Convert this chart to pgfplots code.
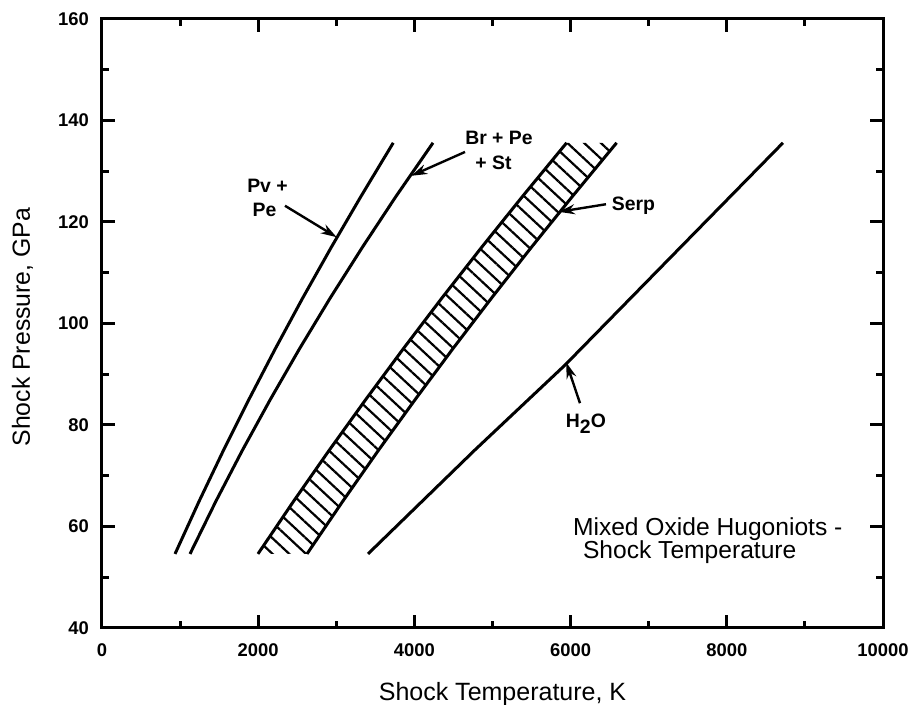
\documentclass[border=0pt]{standalone}
\usepackage{pgfplots}
\pgfplotsset{compat=1.18}
\usepackage{fontspec}
\setmainfont{Liberation Sans}
\usetikzlibrary{patterns.meta,arrows.meta}

\begin{document}
\begin{tikzpicture}
\path[use as bounding box] (-51pt,-38.5pt) rectangle (406pt,314pt);
\begin{axis}[
  scale only axis, width=390.5pt, height=304.5pt,
  xmin=0, xmax=10000, ymin=40, ymax=160,
  xtick={0,2000,...,10000}, ytick={40,60,...,160},
  minor x tick num=1, minor y tick num=1,
  tick align=inside, xtick pos=both, ytick pos=both,
  major tick length=6.5pt, minor tick length=3.5pt,
  tick style={black, line width=1.5pt},
  axis line style={line width=1.5pt},
  ticklabel style={font=\fontsize{9.2}{11}\selectfont\bfseries},
  /pgf/number format/assume math mode=true,
  /pgf/number format/1000 sep={},
  scaled x ticks=false,
  yticklabel style={xshift=-3pt},
  xticklabel style={yshift=-4.5pt},
  xlabel={Shock Temperature, K},
  ylabel={Shock Pressure, GPa},
  xlabel style={font=\fontsize{12.5}{14}\selectfont,
    at={(axis description cs:0.5,0)}, anchor=base, xshift=5pt, yshift=-36pt},
  ylabel style={font=\fontsize{12.4}{14}\selectfont,
    at={(axis description cs:-0.0922,0.494)}, anchor=base},
  clip=false,
]
% Serpentine band: hatched area between the two bounding Hugoniots
\addplot[draw=none, pattern={Lines[angle=-43,distance=5.7pt,line width=1.1pt]}] coordinates {
  (1997,54.6) (2454,65) (2908,75) (3376,85) (3857,95) (4351,105) (4860,115) (5382,125) (5949,135.6)
  (6589,135.6) (6021,125) (5497,115) (4987,105) (4491,95) (4009,85) (3539,75) (3084,65) (2625,54.6)
} -- cycle;
\addplot[line width=1.5pt, no marks] coordinates {
  (1997,54.6) (2454,65) (2908,75) (3376,85) (3857,95) (4351,105) (4860,115) (5382,125) (5949,135.6)};
\addplot[line width=1.5pt, no marks] coordinates {
  (2625,54.6) (3084,65) (3539,75) (4009,85) (4491,95) (4987,105) (5497,115) (6021,125) (6589,135.6)};
% Pv + Pe
\addplot[line width=1.5pt, no marks] coordinates {
  (935,54.6) (1244,65) (1555,75) (1880,85) (2218,95) (2569,105) (2935,115) (3314,125) (3729,135.6)};
% Br + Pe + St
\addplot[line width=1.5pt, no marks] coordinates {
  (1127,54.6) (1459,65) (1797,75) (2154,85) (2528,95) (2921,105) (3333,115) (3762,125) (4238,135.6)};
% H2O
\addplot[line width=1.5pt, no marks] coordinates {
  (3406,54.6) (4776,75.1) (5928,91.8) (7406,115.0) (8719,135.6)};

% curve labels and pointers
\begin{scope}[font=\fontsize{9.7}{11}\selectfont\bfseries]
\node[anchor=base] at (axis cs:2119,125.9) {Pv +};
\node[anchor=base] at (axis cs:2081,121.0) {Pe};
\node[anchor=base] at (axis cs:5083,135.2) {Br + Pe};
\node[anchor=base] at (axis cs:5013,130.4) {+ St};
\node[anchor=base] at (axis cs:6805,122.2) {Serp};
\node[anchor=base] at (axis cs:6196,79.6) {H\raisebox{-3pt}{2}O};
\end{scope}
\begin{scope}[line width=1.2pt, -{Stealth[length=8pt,width=5pt]}]
\draw (axis cs:2343,123.2) -- (axis cs:3005,117.0);
\draw (axis cs:4648,133.8) -- (axis cs:3960,129.1);
\draw (axis cs:6453,123.5) -- (axis cs:5850,122.0);
\draw (axis cs:6120,84.3) -- (axis cs:5945,92.3);
\end{scope}
\node[anchor=base west, font=\fontsize{12.3}{14}\selectfont] at (axis cs:5941,58.3) {Mixed Oxide Hugoniots -};
\node[anchor=base west, font=\fontsize{12.3}{14}\selectfont] at (axis cs:6069,53.6) {Shock Temperature};
\end{axis}
\end{tikzpicture}
\end{document}
